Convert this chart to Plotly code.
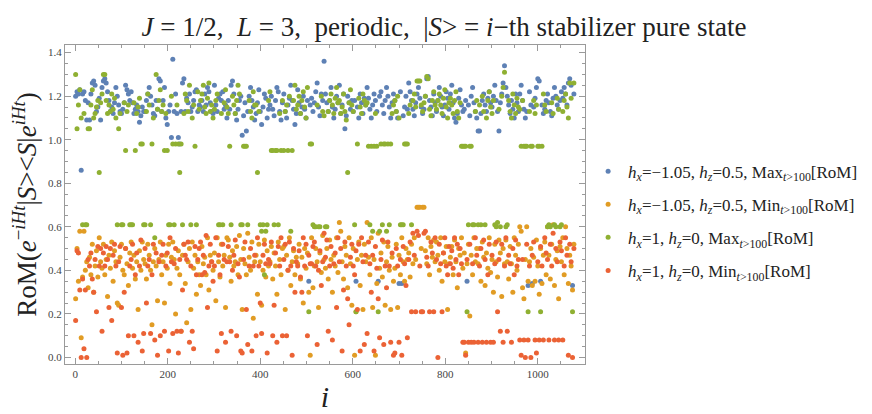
import plotly.graph_objects as go

# state index i (every 3rd stabilizer state shown)
state_index = list(range(1, 1081, 3))

# RoM values x100 (10 values per block of 30 states)
blue_max_x100 = [
    120,122,121,123,86,121,122,118,109,117,
    109,121,126,127,125,113,115,119,109,124,
    127,128,126,122,118,113,115,112,117,124,
    120,116,113,112,114,117,125,123,121,118,
    122,117,112,114,116,113,108,111,115,113,
    113,118,121,124,120,116,112,111,118,114,
    128,127,113,118,124,110,107,113,116,101,
    137,113,121,112,101,98,113,126,128,113,
    119,117,121,113,115,118,122,123,113,116,
    115,118,113,121,116,124,122,117,113,112,
    125,116,113,119,121,118,122,114,116,110,
    118,114,125,127,121,112,109,114,118,120,
    102,111,117,104,113,120,124,118,115,109,
    112,117,123,113,107,115,121,119,110,114,
    116,120,114,111,118,124,122,113,109,117,
    121,113,110,116,119,125,118,114,107,112,
    123,117,112,115,120,114,110,118,35,116,
    119,113,117,122,126,115,111,121,118,136,
    121,117,113,118,124,115,110,114,120,117,
    125,112,116,121,105,111,120,117,114,118,
    113,118,35,115,110,121,117,112,119,116,
    124,119,114,110,116,121,118,113,35,120,
    122,116,112,118,124,120,115,110,117,121,
    118,113,110,34,122,34,111,115,120,114,
    126,122,118,114,111,117,121,124,119,115,
    112,114,120,128,129,118,115,111,121,117,
    113,118,124,120,115,111,116,122,119,114,
    121,125,117,110,108,112,119,123,116,113,
    114,118,35,116,111,120,124,117,113,110,
    104,104,112,118,121,116,113,119,122,117,
    115,120,125,118,113,104,117,121,126,134,
    124,120,116,112,118,114,110,121,117,113,
    121,125,118,114,110,113,33,122,116,34,
    115,119,124,128,127,35,116,112,114,118,
    121,117,113,111,119,124,120,116,114,118,
    122,119,124,121,116,126,128,125,33,121,
]

orange_min_x100 = [
    27,50,35,58,9,37,58,40,44,32,
    46,38,52,30,42,49,37,55,44,41,
    52,38,45,28,47,41,53,35,49,44,
    25,24,46,52,40,38,50,43,33,48,
    53,41,47,36,44,22,49,40,53,45,
    43,36,52,47,40,15,44,50,42,26,
    45,53,38,44,25,47,41,52,34,46,
    53,45,20,41,49,38,12,47,52,34,
    16,44,50,22,53,41,47,29,44,38,
    33,51,43,46,38,55,31,47,44,40,
    48,26,55,44,37,52,42,47,23,55,
    54,46,35,49,42,44,51,38,56,45,
    22,50,43,38,57,46,40,53,18,44,
    47,29,52,44,24,40,54,37,49,42,
    44,51,36,48,42,29,53,45,38,50,
    51,22,47,40,55,33,44,49,38,46,
    43,52,36,46,25,50,41,48,30,1,
    55,32,42,50,44,23,48,39,56,45,
    41,50,36,54,45,30,47,42,55,39,
    62,58,44,36,51,47,32,55,43,24,
    50,1,21,45,53,33,47,22,52,44,
    62,46,38,55,23,45,1,34,57,41,
    48,37,53,24,44,51,40,22,46,35,
    41,52,23,47,38,55,44,35,50,45,
    48,37,52,43,55,45,69,69,69,50,
    69,69,49,43,55,38,51,46,54,44,
    53,47,40,55,35,48,44,51,22,43,
    46,51,38,54,44,32,50,47,55,41,
    48,2,43,52,19,47,38,55,44,50,
    43,50,35,53,46,33,48,41,55,39,
    45,30,52,44,37,54,48,28,50,43,
    54,44,36,51,43,30,55,47,40,52,
    60,58,32,27,45,60,35,44,50,33,
    46,35,54,42,29,50,34,47,53,38,
    60,47,36,52,61,33,45,49,27,51,
    44,55,38,60,50,34,47,42,31,52,
]

green_max_x100 = [
    130,105,116,123,110,61,112,61,61,105,
    105,116,123,110,112,115,118,85,117,121,
    130,130,118,112,116,113,121,114,119,110,
    61,105,112,61,61,117,95,113,116,61,
    61,61,117,95,112,115,119,98,98,61,
    61,113,121,116,61,98,110,55,130,114,
    118,123,113,116,95,112,95,61,61,120,
    98,61,98,116,98,85,98,61,112,121,
    118,113,125,61,110,116,97,61,122,114,
    118,121,125,115,112,119,126,113,116,110,
    114,118,121,61,61,112,61,117,123,115,
    112,97,61,120,116,112,118,125,121,61,
    61,97,97,97,61,118,113,110,122,116,
    116,85,113,61,58,61,38,58,61,118,
    122,95,95,61,95,95,61,112,95,118,
    95,113,116,95,120,58,95,118,125,114,
    116,120,112,118,122,115,110,124,21,98,
    98,61,60,60,116,60,60,120,113,111,
    60,60,113,118,121,116,112,119,124,117,
    118,112,115,121,113,109,85,117,123,116,
    113,61,21,98,119,115,112,121,118,116,
    117,97,61,97,58,97,112,97,21,58,
    98,61,98,98,58,98,61,98,112,116,
    118,113,120,110,61,61,61,98,98,98,
    112,116,61,118,121,115,127,127,127,116,
    113,117,120,129,128,114,111,118,122,116,
    114,118,121,116,112,119,123,115,110,117,
    119,116,112,118,122,113,110,117,97,97,
    97,97,21,61,97,97,61,61,113,118,
    61,116,61,120,113,61,110,118,122,115,
    112,118,61,60,62,114,60,120,124,131,
    60,61,118,113,110,121,116,112,119,115,
    114,97,118,97,97,97,21,113,97,97,
    118,112,116,97,97,21,97,121,116,113,
    60,61,60,117,112,61,60,119,114,60,
    61,113,118,121,115,110,126,119,21,126,
]

red_min_x100 = [
    17,49,48,31,0,36,4,31,0,45,
    42,48,36,30,45,21,51,42,50,12,
    48,42,51,45,23,50,17,47,52,42,
    2,44,51,23,1,30,50,2,10,42,
    45,52,10,38,48,7,42,54,3,11,
    50,25,42,45,11,38,52,8,48,1,
    44,10,47,52,12,42,48,3,55,44,
    11,43,50,12,2,45,12,31,52,47,
    45,53,7,42,12,4,51,38,45,50,
    53,38,47,39,56,23,42,52,44,35,
    42,55,3,47,38,11,52,45,7,44,
    51,44,12,40,47,54,10,43,37,3,
    2,45,53,22,6,42,50,3,42,47,
    10,55,42,25,11,47,52,43,2,45,
    43,53,10,24,48,7,51,42,55,10,
    45,52,10,40,53,42,1,50,30,44,
    42,49,37,30,55,42,52,10,47,43,
    43,51,53,42,6,40,49,33,44,57,
    46,54,12,42,51,8,43,48,23,55,
    44,50,3,31,53,42,27,15,46,52,
    42,38,49,22,52,3,55,44,6,47,
    11,53,43,30,47,3,51,41,27,9,
    45,54,6,42,32,53,42,7,48,1,
    2,50,42,7,45,1,51,43,33,9,
    45,53,21,57,47,21,58,56,42,21,
    21,57,58,46,42,21,53,48,21,55,
    45,0,52,43,21,48,55,42,38,51,
    43,49,41,55,45,52,38,50,43,7,
    7,1,45,7,52,7,43,7,55,47,
    7,42,50,7,54,45,7,38,52,7,
    47,7,43,53,21,45,12,52,7,42,
    55,12,47,43,7,50,38,54,42,45,
    8,1,45,8,0,52,8,42,0,47,
    53,8,2,44,8,51,42,8,55,48,
    45,8,52,42,57,8,50,44,8,53,
    49,8,42,55,47,1,52,44,0,50,
]

series_names = [
    "<i>h<sub>x</sub></i>=\u22121.05, <i>h<sub>z</sub></i>=0.5, Max<sub><i>t</i>&gt;100</sub>[RoM]",
    "<i>h<sub>x</sub></i>=\u22121.05, <i>h<sub>z</sub></i>=0.5, Min<sub><i>t</i>&gt;100</sub>[RoM]",
    "<i>h<sub>x</sub></i>=1, <i>h<sub>z</sub></i>=0, Max<sub><i>t</i>&gt;100</sub>[RoM]",
    "<i>h<sub>x</sub></i>=1, <i>h<sub>z</sub></i>=0, Min<sub><i>t</i>&gt;100</sub>[RoM]",
]
series_values = [blue_max_x100, orange_min_x100, green_max_x100, red_min_x100]
series_colors = ["#5E81B5", "#E19C24", "#8FB032", "#EB6235"]

SERIF = "Liberation Serif, Times New Roman, serif"

fig = go.Figure()
for k, (name, vals, col) in enumerate(zip(series_names, series_values, series_colors)):
    fig.add_trace(go.Scatter(
        x=state_index, y=[v / 100 for v in vals], mode="markers", name=name,
        marker=dict(color=col, size=5, line=dict(width=0)),
        legendgroup=str(k),
    ))

axis_common = dict(
    showline=True, linecolor="#9a9a9a", linewidth=1, mirror="allticks",
    ticks="inside", ticklen=6, tickcolor="#9a9a9a", tickwidth=1,
    showgrid=False, zeroline=False,
    tickfont=dict(family=SERIF, size=11, color="#444444"),
)

fig.update_xaxes(
    range=[-22, 1102], tickvals=[0, 200, 400, 600, 800, 1000],
    minor=dict(dtick=50, tick0=0, ticks="inside", ticklen=3, tickcolor="#9a9a9a"),
    title=dict(text="<i>i</i>", font=dict(family=SERIF, size=30, color="#222222"), standoff=6),
    **axis_common,
)
fig.update_yaxes(
    range=[-0.03, 1.435], tickvals=[0, 0.2, 0.4, 0.6, 0.8, 1.0, 1.2, 1.4], tickformat=".1f",
    minor=dict(dtick=0.05, tick0=0, ticks="inside", ticklen=3, tickcolor="#9a9a9a"),
    title=dict(
        text="RoM(<i>e</i><sup>\u2212<i>iHt</i></sup>|<i>S</i>&gt;&lt;<i>S</i>|<i>e</i><sup><i>iHt</i></sup>)",
        font=dict(family=SERIF, size=27, color="#222222"), standoff=4),
    **axis_common,
)

fig.update_layout(
    width=872, height=414,
    margin=dict(l=57, r=295, t=37, b=58),
    paper_bgcolor="white", plot_bgcolor="white",
    title=dict(
        text="<i>J</i> = 1/2,\u00a0\u00a0<i>L</i> = 3,\u00a0\u00a0periodic,\u00a0\u00a0|<i>S</i>&gt; = <i>i</i>\u2212th stabilizer pure state",
        font=dict(family=SERIF, size=27, color="#222222"),
        x=0.5, xanchor="center", y=0.955, yanchor="middle",
    ),
    legend=dict(
        x=1.006, xanchor="left", y=0.448, yanchor="middle",
        font=dict(family=SERIF, size=17, color="#222222"),
        tracegroupgap=8, itemsizing="trace", bgcolor="rgba(0,0,0,0)",
    ),
    showlegend=True,
)

fig.write_html("out.html")
